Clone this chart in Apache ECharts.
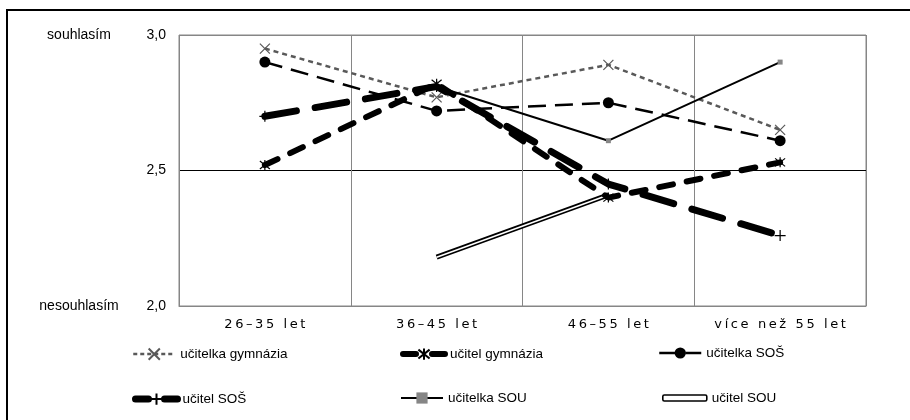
<!DOCTYPE html>
<html>
<head>
<meta charset="utf-8">
<script src="https://cdn.jsdelivr.net/npm/echarts@6/dist/echarts.min.js"></script>
<style>
html, body { margin: 0; padding: 0; background: #fff; }
#chart { width: 910px; height: 420px; }
</style>
</head>
<body>
<div id="chart"></div>
<script>
// Age groups on the category axis
const categories = ['26–35 let', '36–45 let', '46–55 let', 'více než 55 let'];
// Tick labels of the agreement scale
const yTickLabels = { '3': '3,0', '2.5': '2,5', '2': '2,0' };
const yEndLabels = { '3': 'souhlasím', '2': 'nesouhlasím' };

// Mean agreement per teacher group
const ucitelkaGymnazia = [2.95, 2.77, 2.89, 2.65];
const ucitelGymnazia   = [2.52, 2.82, 2.40, 2.53];
const ucitelkaSOS      = [2.90, 2.72, 2.75, 2.61];
const ucitelSOS        = [2.70, 2.81, 2.45, 2.26];
const ucitelkaSOU      = [null, 2.81, 2.61, 2.90];
const ucitelSOU        = [null, 2.18, 2.41, null];

const names = ['učitelka gymnázia', 'učitel gymnázia', 'učitelka SOŠ',
               'učitel SOŠ', 'učitelka SOU', 'učitel SOU'];

// Stroked marker shapes
const X_MARK = 'path://M0,0L10,10M10,0L0,10';
const STAR_MARK = 'path://M1,1L9,9M9,1L1,9M5,0L5,10';
const PLUS_MARK = 'path://M0,5L10,5M5,0L5,10';

const strokeMark = (c) => ({ color: 'none', borderColor: c, borderWidth: 1.2 });

// Spread the axis label letters apart
const spaced = (s) => s.split('').join('\u2009');

const chart = echarts.init(document.getElementById('chart'), null, { renderer: 'canvas' });

// legend slots: three columns, two rows
const legendPos = [
  [127, 341], [395, 341], [653, 341],
  [127, 386], [395, 386], [653, 386]
];
// dash patterns used inside the legend swatches
const legendDash = [[4, 3], [13, 16], [16, 10], [13, 16], 'solid', 'solid'];

const legends = names.map((n, i) => {
  const item = { name: n, lineStyle: { type: legendDash[i] } };
  const lg = {
    left: legendPos[i][0], top: legendPos[i][1],
    itemWidth: 42, itemHeight: 14, itemGap: 0,
    selectedMode: false,
    lineStyle: { width: 'inherit', type: 'inherit', cap: 'inherit' },
    textStyle: { fontFamily: 'Liberation Sans', fontSize: 13.5, color: '#000' },
    data: [item]
  };
  if (n === 'učitel SOU') {
    item.icon = 'roundRect';
    item.itemStyle = { color: '#fff', borderColor: '#000', borderWidth: 1.6 };
    lg.itemHeight = 6;
    lg.left = legendPos[i][0] + 4;
    lg.itemWidth = 44;
  }
  return lg;
});

const option = {
  animation: false,
  backgroundColor: '#fff',
  graphic: [{
    type: 'rect', silent: true, z: -10,
    shape: { x: 7, y: 10, width: 1000, height: 1000 },
    style: { fill: 'none', stroke: '#000', lineWidth: 2 }
  }],
  grid: {
    left: 179, right: 44, top: 35, bottom: 114,
    show: true, borderColor: '#868686', borderWidth: 1, backgroundColor: 'transparent'
  },
  legend: legends,
  xAxis: {
    type: 'category',
    data: categories,
    boundaryGap: true,
    axisLine: { show: true, lineStyle: { color: '#868686', width: 1 } },
    axisTick: { show: false },
    splitLine: { show: true, interval: 0, lineStyle: { color: '#868686', width: 1 } },
    axisLabel: {
      interval: 0, margin: 12,
      fontFamily: 'DejaVu Sans', fontSize: 13, color: '#000',
      formatter: (v) => spaced(v)
    }
  },
  yAxis: {
    type: 'value', min: 2, max: 3, interval: 0.5,
    axisLine: { show: false },
    axisTick: { show: false },
    splitLine: { show: true, lineStyle: { color: ['#868686', '#000', '#868686'], width: 1 } },
    axisLabel: {
      margin: 13,
      formatter: (v) => {
        const k = String(v);
        return (yEndLabels[k] ? '{t|' + yEndLabels[k] + '}' : '') + '{v|' + yTickLabels[k] + '}';
      },
      rich: {
        t: { width: 124, align: 'center', fontFamily: 'Liberation Sans', fontSize: 14, color: '#000' },
        v: { width: 25, align: 'right', fontFamily: 'Liberation Sans', fontSize: 14, color: '#000' }
      }
    }
  },
  series: [
    {
      name: names[0], type: 'line', data: ucitelkaGymnazia, z: 3,
      symbol: X_MARK, symbolSize: 10, itemStyle: strokeMark('#595959'),
      lineStyle: { color: '#595959', width: 2.5, type: [5, 4] }
    },
    {
      name: names[1], type: 'line', data: ucitelGymnazia, z: 4,
      symbol: STAR_MARK, symbolSize: 10, itemStyle: strokeMark('#000'),
      lineStyle: { color: '#000', width: 6, type: [14, 14], cap: 'round' }
    },
    {
      name: names[2], type: 'line', data: ucitelkaSOS, z: 3,
      symbol: 'circle', symbolSize: 11, itemStyle: { color: '#000' },
      lineStyle: { color: '#000', width: 2.5, type: [18, 9] }
    },
    {
      name: names[3], type: 'line', data: ucitelSOS, z: 4,
      symbol: PLUS_MARK, symbolSize: 11, itemStyle: strokeMark('#000'),
      lineStyle: { color: '#000', width: 7, type: [32, 19], cap: 'round' }
    },
    {
      name: names[4], type: 'line', data: ucitelkaSOU, z: 3,
      symbol: 'rect', symbolSize: 5, itemStyle: { color: '#868686' },
      lineStyle: { color: '#000', width: 2 }
    },
    {
      name: names[5], type: 'line', data: ucitelSOU, z: 3,
      symbol: 'none', itemStyle: { color: '#000' },
      lineStyle: { color: '#000', width: 5 }
    },
    {
      // white core of the double line
      name: names[5], type: 'line', data: ucitelSOU, z: 3,
      symbol: 'none', itemStyle: { color: '#fff' },
      lineStyle: { color: '#fff', width: 1.6 }
    }
  ]
};

chart.setOption(option);
</script>
</body>
</html>
